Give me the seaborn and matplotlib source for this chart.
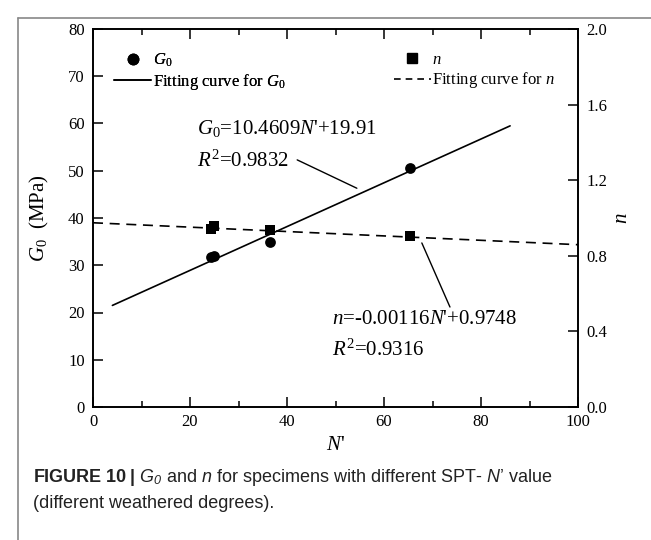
import matplotlib
matplotlib.use("Agg")
import matplotlib.pyplot as plt
from matplotlib.lines import Line2D
import seaborn as sns
import pandas as pd

# ---------------- data ----------------
n_prime_g0 = [24.3, 25.0, 36.5, 65.3]
g0_values = [31.8, 32.0, 35.0, 50.5]
n_prime_n = [24.3, 24.9, 36.5, 65.3]
n_values = [0.943, 0.957, 0.935, 0.905]

fit_g0_x = [4.0, 86.0]
fit_g0_y = [21.5, 59.5]
fit_n_x = [0.0, 100.0]
fit_n_y = [0.9748, 0.8588]

x_ticks = [0, 20, 40, 60, 80, 100]
g0_ticks = [0, 10, 20, 30, 40, 50, 60, 70, 80]
n_ticks = [0.0, 0.4, 0.8, 1.2, 1.6, 2.0]

sns.set_theme(style="white")
plt.rcParams["font.family"] = ["Liberation Serif", "DejaVu Serif"]
plt.rcParams["text.color"] = "black"
plt.rcParams["axes.labelcolor"] = "black"
plt.rcParams["xtick.color"] = "black"
plt.rcParams["ytick.color"] = "black"
plt.rcParams["mathtext.fontset"] = "custom"
plt.rcParams["mathtext.rm"] = "Liberation Serif"
plt.rcParams["mathtext.it"] = "Liberation Serif:italic"
plt.rcParams["mathtext.bf"] = "Liberation Sans:bold"
plt.rcParams["mathtext.sf"] = "Liberation Sans:italic"

fig = plt.figure(figsize=(6.51, 5.40), dpi=100)
ax = fig.add_axes([93/651, 1-407/540, (578-93)/651, (407-29)/540])
ax2 = ax.twinx()

df_g = pd.DataFrame({"N": n_prime_g0, "G0": g0_values})
df_n = pd.DataFrame({"N": n_prime_n, "n": n_values})
df_fg = pd.DataFrame({"N": fit_g0_x, "G0": fit_g0_y})
df_fn = pd.DataFrame({"N": fit_n_x, "n": fit_n_y})

sns.lineplot(data=df_fg, x="N", y="G0", ax=ax, color="black", lw=1.2)
sns.scatterplot(data=df_g, x="N", y="G0", ax=ax, color="black", marker="o",
                s=60, edgecolor="black", linewidth=0, zorder=5)
sns.lineplot(data=df_fn, x="N", y="n", ax=ax2, color="black", lw=1.2)
ax2.lines[-1].set_dashes([6, 4])
sns.scatterplot(data=df_n, x="N", y="n", ax=ax2, color="black", marker="s",
                s=55, edgecolor="black", linewidth=0, zorder=5)

ax.set_xlim(0, 100)
ax.set_ylim(0, 80)
ax2.set_ylim(0, 2.0)
ax.set_xticks(x_ticks)
ax.set_xticks(range(10, 100, 20), minor=True)
ax.set_yticks(g0_ticks)
ax2.set_yticks(n_ticks)
ax2.set_yticklabels([f"{v:.1f}" for v in n_ticks])
ax.set_xticklabels([str(v) for v in x_ticks])
ax.set_yticklabels([str(v) for v in g0_ticks])

for a in (ax, ax2):
    for sp in a.spines.values():
        sp.set_color("black")
        sp.set_linewidth(1.2)
ax.tick_params(axis="x", which="both", direction="in", top=True, bottom=True,
               labelsize=12, pad=5, colors="black")
ax.tick_params(axis="x", which="major", length=7, width=1.1)
ax.tick_params(axis="x", which="minor", length=4, width=1.1)
ax.tick_params(axis="y", which="major", direction="in", length=7, width=1.1,
               labelsize=12, pad=6, left=True, right=False, colors="black")
ax2.tick_params(axis="y", which="major", direction="in", length=7, width=1.1,
                labelsize=12, pad=6, colors="black")

ax.set_xlabel("$N$'", fontsize=15, labelpad=4)
ax.set_ylabel("$G_0$  (MPa)", fontsize=15, labelpad=12)
ax2.set_ylabel("$n$", fontsize=15, labelpad=4)

# annotations
ax.text(21.4, 59.0, "$G_0$=10.4609$N$'+19.91", fontsize=15, va="center", ha="left")
ax.text(21.4, 52.0, "$R^2$=0.9832", fontsize=15, va="center", ha="left")
ax.plot([42.1, 54.4], [52.3, 46.3], color="black", lw=1.0)
ax.text(49.3, 18.6, "$n$=-0.00116$N$'+0.9748", fontsize=15, va="center", ha="left")
ax.text(49.3, 12.1, "$R^2$=0.9316", fontsize=15, va="center", ha="left")
ax2.plot([67.8, 73.6], [0.868, 0.529], color="black", lw=1.0)

# legends
h1 = [Line2D([], [], color="black", marker="o", ls="none", markersize=7.5),
      Line2D([], [], color="black", lw=1.2)]
leg1 = ax.legend(h1, ["$G_0$", "Fitting curve for $G_0$"], loc="upper left",
                 bbox_to_anchor=(0.03, 0.957), frameon=False, fontsize=12,
                 handlelength=2.2, handletextpad=0.1, labelspacing=0.15,
                 borderaxespad=0)
ax.add_artist(leg1)
h2 = [Line2D([], [], color="black", marker="s", ls="none", markersize=7),
      Line2D([], [], color="black", lw=1.2, ls=(0, (4, 3)))]
leg2 = ax2.legend(h2, ["$n$", "Fitting curve for $n$"], loc="upper left",
                  bbox_to_anchor=(0.607, 0.957), frameon=False, fontsize=12,
                  handlelength=2.2, handletextpad=0.1, labelspacing=0.15,
                  borderaxespad=0)

# caption
fig.text(33/651, 1-478/540,
         r"$\mathbf{FIGURE\ 10\ |}$ $\mathsf{G}_{\mathsf{0}}$ and $\mathsf{n}$ for specimens with different SPT- $\mathsf{N}$’ value",
         fontsize=13, family=["Liberation Sans", "DejaVu Sans"], va="center", ha="left", color="#222222")
fig.text(33/651, 1-504/540, "(different weathered degrees).",
         fontsize=13, family=["Liberation Sans", "DejaVu Sans"], va="center", ha="left", color="#222222")

# figure frame (top and left)
fig.add_artist(Line2D([18/651, 18/651], [0, 1-18/540], color="#888888", lw=1.2,
                      transform=fig.transFigure))
fig.add_artist(Line2D([18/651, 1], [1-18/540, 1-18/540], color="#888888", lw=1.2,
                      transform=fig.transFigure))

fig.savefig("out.png", dpi=100)
